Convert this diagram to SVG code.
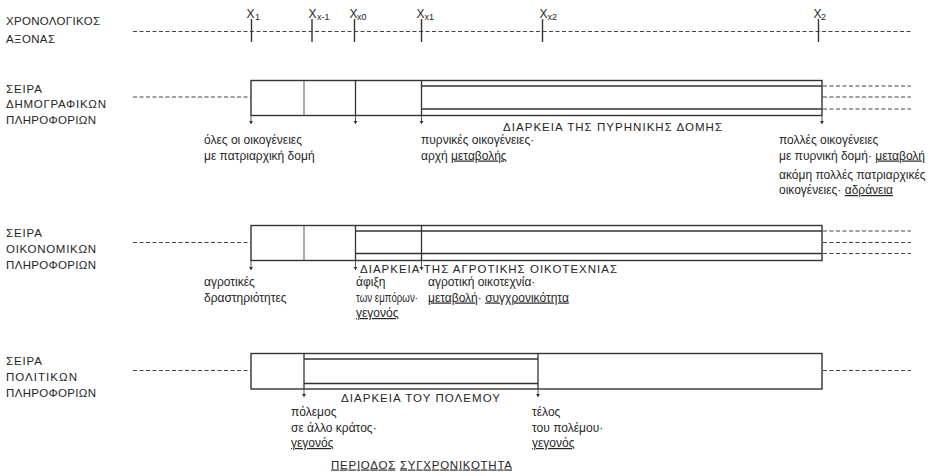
<svg xmlns="http://www.w3.org/2000/svg" width="939" height="476" viewBox="0 0 939 476">
  <defs>
    <marker id="tip" viewBox="0 0 3 4" refX="3" refY="2" markerWidth="3.5" markerHeight="4.5" markerUnits="userSpaceOnUse" orient="auto">
      <path d="M0,0 L3,2 L0,4 z" fill="#333"/>
    </marker>
  </defs>
  <style>
    text { font-family: "Liberation Sans", Arial, sans-serif; fill: #262626; font-size: 12px; }
    .cap { font-size: 11.5px; }
    .x { font-size: 12px; }
    .sub { font-size: 9px; }
    .u { text-decoration: underline; }
    .box { fill: #fff; stroke: #333; stroke-width: 1.4; }
    .div { stroke: #555; stroke-width: 1; }
    .band { stroke: #333; stroke-width: 1.3; }
    .dash { stroke: #444; stroke-width: 1.2; stroke-dasharray: 4 2.5; fill: none; }
    .tick { stroke: #333; stroke-width: 1.4; }
    .arrow { stroke: #555; stroke-width: 1; fill: none; marker-end: url(#tip); }
  </style>

  <!-- chronological axis -->
  <g id="axis">
    <text class="cap" x="6" y="25" textLength="94" lengthAdjust="spacing">ΧΡΟΝΟΛΟΓΙΚΟΣ</text>
    <text class="cap" x="6" y="42.5" textLength="49" lengthAdjust="spacing">ΑΞΟΝΑΣ</text>
    <line class="dash" x1="133" y1="31.5" x2="911" y2="31.5"/>
    <line class="tick" x1="251.5" y1="19" x2="251.5" y2="42"/>
    <line class="tick" x1="312" y1="19" x2="312" y2="42"/>
    <line class="tick" x1="354.5" y1="19" x2="354.5" y2="42"/>
    <line class="tick" x1="421.5" y1="19" x2="421.5" y2="42"/>
    <line class="tick" x1="542.5" y1="19" x2="542.5" y2="42"/>
    <line class="tick" x1="818.5" y1="19" x2="818.5" y2="42"/>
    <text class="x" x="246.5" y="18">X</text><text class="sub" x="255" y="20">1</text>
    <text class="x" x="308.5" y="18">X</text><text class="sub" x="317" y="20">x-1</text>
    <text class="x" x="349.5" y="18">X</text><text class="sub" x="357" y="20">x0</text>
    <text class="x" x="416.5" y="18">X</text><text class="sub" x="424.5" y="20">x1</text>
    <text class="x" x="539.5" y="18">X</text><text class="sub" x="547.5" y="20">x2</text>
    <text class="x" x="813.5" y="18">X</text><text class="sub" x="821" y="20">2</text>
  </g>

  <!-- demographic series -->
  <g id="row-demographic">
    <text class="cap" x="6" y="92.5" textLength="36" lengthAdjust="spacing">ΣΕΙΡΑ</text>
    <text class="cap" x="6" y="108" textLength="100" lengthAdjust="spacing">ΔΗΜΟΓΡΑΦΙΚΩΝ</text>
    <text class="cap" x="6" y="124" textLength="90" lengthAdjust="spacing">ΠΛΗΡΟΦΟΡΙΩΝ</text>
    <line class="dash" x1="133" y1="97" x2="251" y2="97"/>
    <rect class="box" x="251" y="80.5" width="571" height="35"/>
    <line class="div" x1="304" y1="80.5" x2="304" y2="115.5"/>
    <line class="band" x1="355.5" y1="80.5" x2="355.5" y2="115.5"/>
    <line class="band" x1="421.5" y1="80.5" x2="421.5" y2="115.5"/>
    <line class="band" x1="421.5" y1="86" x2="822" y2="86"/>
    <line class="band" x1="421.5" y1="109" x2="822" y2="109"/>
    <line class="dash" x1="823" y1="86" x2="911" y2="86"/>
    <line class="dash" x1="823" y1="97" x2="911" y2="97"/>
    <line class="dash" x1="823" y1="109" x2="911" y2="109"/>
    <text class="cap" x="503" y="131" textLength="219" lengthAdjust="spacing">ΔΙΑΡΚΕΙΑ ΤΗΣ ΠΥΡΗΝΙΚΗΣ ΔΟΜΗΣ</text>
    <text x="204" y="144">όλες οι οικογένειες</text>
    <text x="204" y="159.5">με πατριαρχική δομή</text>
    <text x="421" y="144">πυρνικές οικογένειες·</text>
    <text x="421" y="159.5">αρχή <tspan class="u">μεταβολής</tspan></text>
    <text x="779" y="144">πολλές οικογένειες</text>
    <text x="779" y="159.5">με πυρνική δομή· <tspan class="u">μεταβολή</tspan></text>
    <text x="779" y="178.5">ακόμη πολλές πατριαρχικές</text>
    <text x="779" y="194">οικογένειες· <tspan class="u">αδράνεια</tspan></text>
  </g>

  <!-- economic series -->
  <g id="row-economic">
    <text class="cap" x="6" y="237" textLength="36" lengthAdjust="spacing">ΣΕΙΡΑ</text>
    <text class="cap" x="6" y="252.5" textLength="90" lengthAdjust="spacing">ΟΙΚΟΝΟΜΙΚΩΝ</text>
    <text class="cap" x="6" y="268.5" textLength="90" lengthAdjust="spacing">ΠΛΗΡΟΦΟΡΙΩΝ</text>
    <line class="dash" x1="133" y1="242.5" x2="251" y2="242.5"/>
    <rect class="box" x="251" y="225.5" width="571" height="35"/>
    <line class="div" x1="304" y1="225.5" x2="304" y2="260.5"/>
    <line class="band" x1="355.5" y1="225.5" x2="355.5" y2="260.5"/>
    <line class="band" x1="421.5" y1="225.5" x2="421.5" y2="260.5"/>
    <line class="band" x1="355.5" y1="231" x2="822" y2="231"/>
    <line class="band" x1="355.5" y1="253.5" x2="822" y2="253.5"/>
    <line class="dash" x1="823" y1="231" x2="911" y2="231"/>
    <line class="dash" x1="823" y1="242.5" x2="911" y2="242.5"/>
    <line class="dash" x1="823" y1="253.5" x2="911" y2="253.5"/>
    <text class="cap" x="360" y="273" textLength="257" lengthAdjust="spacing">ΔΙΑΡΚΕΙΑ ΤΗΣ ΑΓΡΟΤΙΚΗΣ ΟΙΚΟΤΕΧΝΙΑΣ</text>
    <text x="204" y="286">αγροτικές</text>
    <text x="204" y="301.5">δραστηριότητες</text>
    <text x="356" y="286">άφιξη</text>
    <text x="356" y="301.5" textLength="62" lengthAdjust="spacingAndGlyphs">των εμπόρων·</text>
    <text x="356" y="317" class="u">γεγονός</text>
    <text x="428" y="286">αγροτική οικοτεχνία·</text>
    <text x="428" y="301.5"><tspan class="u">μεταβολή</tspan>· <tspan class="u">συγχρονικότητα</tspan></text>
  </g>

  <!-- political series -->
  <g id="row-political">
    <text class="cap" x="6" y="365" textLength="36" lengthAdjust="spacing">ΣΕΙΡΑ</text>
    <text class="cap" x="6" y="381" textLength="71" lengthAdjust="spacing">ΠΟΛΙΤΙΚΩΝ</text>
    <text class="cap" x="6" y="397" textLength="90" lengthAdjust="spacing">ΠΛΗΡΟΦΟΡΙΩΝ</text>
    <line class="dash" x1="133" y1="370.5" x2="251" y2="370.5"/>
    <rect class="box" x="251" y="353.5" width="571" height="35.5"/>
    <line class="band" x1="304" y1="353.5" x2="304" y2="389"/>
    <line class="band" x1="538" y1="353.5" x2="538" y2="389"/>
    <line class="band" x1="304" y1="359" x2="538" y2="359"/>
    <line class="band" x1="304" y1="383.5" x2="538" y2="383.5"/>
    <line class="dash" x1="823" y1="370.5" x2="911" y2="370.5"/>
    <text class="cap" x="341" y="401.5" textLength="159" lengthAdjust="spacing">ΔΙΑΡΚΕΙΑ ΤΟΥ ΠΟΛΕΜΟΥ</text>
    <text x="291" y="416">πόλεμος</text>
    <text x="291" y="431.5">σε άλλο κράτος·</text>
    <text x="291" y="447" class="u">γεγονός</text>
    <text x="532" y="416">τέλος</text>
    <text x="532" y="431.5">του πολέμου·</text>
    <text x="532" y="447" class="u">γεγονός</text>
    <text class="cap" x="331" y="468.5" textLength="181" lengthAdjust="spacing"><tspan class="u">ΠΕΡΙΟΔΟΣ</tspan> <tspan class="u">ΣΥΓΧΡΟΝΙΚΟΤΗΤΑ</tspan></text>
  </g>

  <!-- event pointers -->
  <g id="connectors">
    <line class="arrow" x1="251" y1="116" x2="251" y2="124"/>
    <line class="arrow" x1="355.5" y1="116" x2="355.5" y2="124"/>
    <line class="arrow" x1="421.5" y1="116" x2="421.5" y2="124"/>
    <line class="arrow" x1="822" y1="116" x2="822" y2="124"/>
    <line class="arrow" x1="251" y1="261" x2="251" y2="270"/>
    <line class="arrow" x1="355.5" y1="261" x2="355.5" y2="270"/>
    <line class="arrow" x1="421.5" y1="261" x2="421.5" y2="270"/>
    <line class="arrow" x1="304" y1="389.5" x2="304" y2="397"/>
    <line class="arrow" x1="538" y1="389.5" x2="538" y2="397"/>
  </g>
</svg>
